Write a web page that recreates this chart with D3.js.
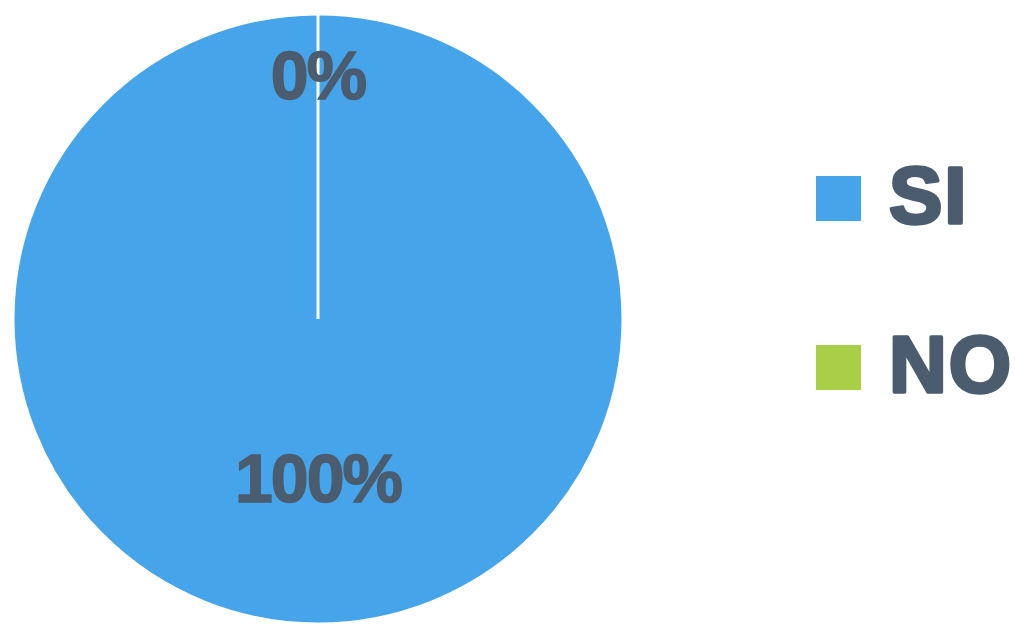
<!DOCTYPE html>
<html>
<head>
<meta charset="utf-8">
<script src="https://cdn.jsdelivr.net/npm/d3@7"></script>
<style>
  html, body { margin: 0; padding: 0; background: #ffffff; }
  svg { display: block; }
</style>
</head>
<body>
<svg id="chart" width="1015" height="624"></svg>
<script>
const categories = ["SI", "NO"];
const values = [100, 0];
const labels = ["100%", "0%"];
const colors = ["#45a4ea", "#a8cf47"];

const svg = d3.select("#chart");
const cx = 318, cy = 319, r = 305;
const textColor = "#4a5c6d";

const pie = d3.pie().sort(null).value(d => d.value);
const data = pie(categories.map((c, i) => ({ cat: c, value: values[i], label: labels[i] })));
const color = d3.scaleOrdinal().domain(categories).range(colors);
const arc = d3.arc().innerRadius(0).outerRadius(r);

const g = svg.append("g").attr("transform", `translate(${cx},${cy})`);

g.selectAll("path.slice")
  .data(data)
  .join("path")
  .attr("class", "slice")
  .attr("d", arc)
  .attr("fill", d => color(d.data.cat))
  .attr("stroke", "#ffffff")
  .attr("stroke-width", 3);

g.selectAll("text.lbl")
  .data(data)
  .join("text")
  .attr("class", "lbl")
  .attr("transform", d => {
    const span = d.endAngle - d.startAngle;
    const lr = span > Math.PI ? r * 0.52 : r * 0.80;
    const c = d3.arc().innerRadius(lr).outerRadius(lr).centroid(d);
    return `translate(${c[0]},${c[1]})`;
  })
  .attr("text-anchor", "middle")
  .attr("dy", "0.36em")
  .attr("font-family", "Liberation Sans, Arial, sans-serif")
  .attr("font-weight", "bold")
  .attr("font-size", 68)
  .attr("letter-spacing", -2)
  .attr("fill", textColor)
  .attr("stroke", textColor)
  .attr("stroke-width", 1.5)
  .text(d => d.data.label);

const legendY = d3.scalePoint().domain(categories).range([198, 367]);
const legend = svg.append("g");
legend.selectAll("rect")
  .data(categories)
  .join("rect")
  .attr("x", 816)
  .attr("y", d => legendY(d) - 22)
  .attr("width", 45)
  .attr("height", 45)
  .attr("fill", d => color(d));
legend.selectAll("text")
  .data(categories)
  .join("text")
  .attr("x", 889)
  .attr("y", d => legendY(d) + 25)
  .attr("font-family", "Liberation Sans, Arial, sans-serif")
  .attr("font-weight", "bold")
  .attr("font-size", 80)
  .attr("letter-spacing", 2)
  .attr("fill", textColor)
  .attr("stroke", textColor)
  .attr("stroke-width", 3.5)
  .attr("stroke-linejoin", "round")
  .text(d => d);
</script>
</body>
</html>
